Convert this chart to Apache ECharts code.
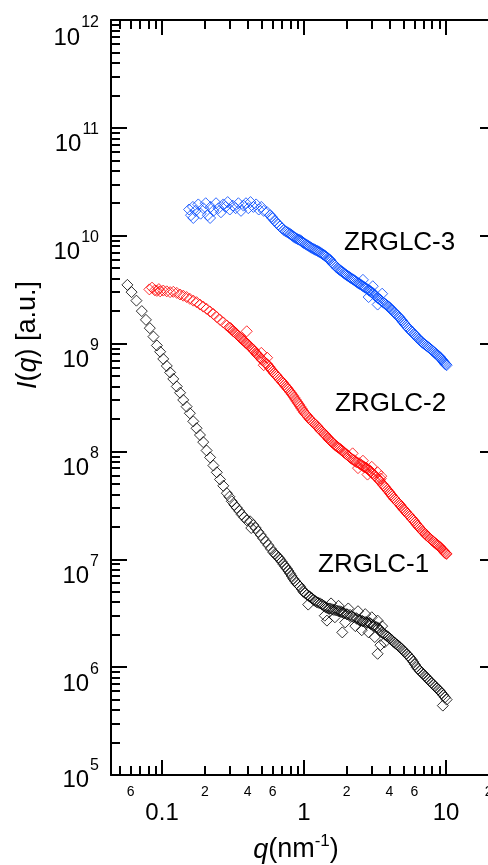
<!DOCTYPE html>
<html>
<head>
<meta charset="utf-8">
<script src="https://cdn.jsdelivr.net/npm/echarts@6.0.0/dist/echarts.min.js"></script>
<style>
  html, body { margin: 0; padding: 0; background: #fff; overflow: hidden; }
  #chart { width: 500px; height: 865px; }
</style>
</head>
<body>
<div id="chart"></div>
<script>
// ZRGLC-1 (black)
const q1 = [0.057,0.061,0.066,0.072,0.077,0.082,0.087,0.092,0.097,0.102,0.108,0.114,0.120,0.127,0.134,0.141,0.149,0.157,0.166,0.175,
  0.185,0.195,0.206,0.218,0.230,0.243,0.256,0.270,0.286,0.298,0.310,0.323,0.336,0.350,0.364,0.380,0.395,0.417,0.425,0.439,
  0.457,0.476,0.496,0.516,0.538,0.561,0.584,0.608,0.642,0.677,0.716,0.756,0.797,0.840,0.887,0.937,0.990,1.05,1.07,1.10,
  1.17,1.23,1.30,1.38,1.40,1.45,1.45,1.52,1.55,1.61,1.65,1.70,1.75,1.79,1.86,1.89,1.95,2.00,2.05,2.11,
  2.23,2.30,2.36,2.40,2.48,2.55,2.62,2.70,2.77,2.85,2.92,3.00,3.08,3.15,3.25,3.30,3.30,3.43,3.45,3.55,
  3.62,3.70,3.83,4.03,4.26,4.50,4.74,5.00,5.28,5.57,5.88,6.20,6.56,6.92,7.30,7.71,8.14,8.60,9.07,9.50,9.57,10.1];
const i1 = [3.5e9,3.0e9,2.5e9,2.0e9,1.66e9,1.39e9,1.16e9,9.6e8,8.4e8,7.2e8,6.2e8,5.4e8,4.7e8,4.0e8,3.5e8,3.0e8,2.6e8,2.26e8,1.9e8,1.64e8,
  1.42e8,1.22e8,1.02e8,8.8e7,7.4e7,6.4e7,5.5e7,4.8e7,4.1e7,3.8e7,3.45e7,3.2e7,3.0e7,2.8e7,2.6e7,2.45e7,2.3e7,2.25e7,1.95e7,2.08e7,
  1.95e7,1.8e7,1.68e7,1.56e7,1.45e7,1.35e7,1.25e7,1.16e7,1.08e7,1.0e7,9.0e6,8.2e6,7.4e6,6.6e6,6.0e6,5.6e6,5.0e6,4.7e6,3.8e6,4.5e6,
  4.2e6,4.0e6,3.9e6,3.7e6,3.0e6,3.55e6,2.7e6,3.5e6,3.9e6,3.4e6,2.9e6,3.35e6,3.7e6,3.3e6,2.1e6,3.2e6,2.6e6,3.1e6,3.5e6,3.05e6,
  2.9e6,2.4e6,2.8e6,3.3e6,2.7e6,2.2e6,2.65e6,3.1e6,2.6e6,2.1e6,2.55e6,2.9e6,2.45e6,1.9e6,2.35e6,2.7e6,1.33e6,2.2e6,1.6e6,2.4e6,
  2.05e6,1.7e6,1.95e6,1.84e6,1.72e6,1.62e6,1.53e6,1.42e6,1.33e6,1.23e6,1.12e6,1.0e6,9.2e5,8.6e5,8.0e5,7.4e5,6.9e5,6.4e5,6.0e5,4.4e5,5.5e5,5.0e5];
// denser high-q part of the black band
const q1b = [0.625,0.660,0.696,0.736,0.776,0.818,0.863,0.910,0.963,1.02,1.085,1.135,1.20,1.265,1.34,1.415,1.49,1.57,1.655,1.745,
  1.84,1.92,2.02,2.17,2.33,2.44,2.58,2.73,2.88,2.96,3.12,3.35,3.52,3.72,3.93,4.15,4.38,4.62,4.87,5.14,
  5.42,5.72,6.04,6.38,6.74,7.11,7.50,7.92,8.37,8.83,9.30,9.83];
const i1b = [1.12e7,1.04e7,9.5e6,8.6e6,7.8e6,7.0e6,6.3e6,5.8e6,5.3e6,4.85e6,4.55e6,4.35e6,4.1e6,3.95e6,3.8e6,3.6e6,3.5e6,3.45e6,3.38e6,3.3e6,
  3.25e6,3.15e6,3.08e6,2.95e6,2.85e6,2.75e6,2.68e6,2.62e6,2.58e6,2.5e6,2.4e6,2.3e6,2.1e6,2.0e6,1.9e6,1.78e6,1.67e6,1.58e6,1.48e6,1.38e6,
  1.28e6,1.18e6,1.06e6,9.6e5,8.9e5,8.3e5,7.7e5,7.15e5,6.65e5,6.2e5,5.75e5,5.25e5];

// ZRGLC-2 (red)
const q2 = [0.0814,0.085,0.089,0.092,0.095,0.097,0.102,0.108,0.114,0.120,0.127,0.134,0.141,0.149,0.157,0.166,0.175,0.185,0.195,0.206,
  0.218,0.230,0.243,0.256,0.270,0.286,0.298,0.310,0.323,0.336,0.350,0.364,0.380,0.395,0.395,0.412,0.430,0.447,0.464,0.482,
  0.500,0.500,0.520,0.546,0.550,0.568,0.590,0.616,0.643,0.670,0.700,0.728,0.756,0.788,0.820,0.855,0.890,0.925,0.960,1.00,
  1.05,1.10,1.15,1.20,1.25,1.30,1.36,1.41,1.47,1.52,1.58,1.65,1.72,1.79,1.87,1.95,2.03,2.11,2.20,2.20,
  2.30,2.40,2.48,2.60,2.60,2.70,2.80,2.80,2.92,3.00,3.00,3.15,3.30,3.30,3.43,3.50,3.56,3.70,3.86,4.03,
  4.18,4.35,4.55,4.74,4.92,5.10,5.33,5.57,5.80,6.05,6.30,6.56,6.82,7.10,7.40,7.71,8.02,8.35,8.70,9.07,9.35,9.60,9.85,10.1];
const i2 = [3.18e9,3.3e9,3.12e9,3.08e9,3.2e9,3.05e9,3.1e9,3.05e9,3.0e9,3.02e9,2.95e9,2.85e9,2.78e9,2.7e9,2.6e9,2.5e9,2.42e9,2.3e9,2.2e9,2.1e9,
  1.98e9,1.88e9,1.76e9,1.66e9,1.57e9,1.47e9,1.41e9,1.35e9,1.28e9,1.22e9,1.16e9,1.10e9,1.05e9,1.0e9,1.3e9,9.5e8,9.0e8,8.5e8,8.0e8,7.6e8,
  7.2e8,8.2e8,6.3e8,6.5e8,7.4e8,6.1e8,5.7e8,5.3e8,5.0e8,4.7e8,4.4e8,4.15e8,3.9e8,3.65e8,3.4e8,3.15e8,2.9e8,2.7e8,2.5e8,2.3e8,
  2.15e8,1.98e8,1.87e8,1.78e8,1.68e8,1.58e8,1.5e8,1.42e8,1.34e8,1.27e8,1.21e8,1.15e8,1.1e8,1.06e8,1.01e8,9.6e7,9.2e7,8.8e7,8.4e7,9.6e7,
  8.1e7,7.0e7,7.6e7,7.3e7,8.2e7,7.1e7,6.9e7,6.1e7,6.6e7,7.2e7,6.3e7,6.0e7,5.6e7,6.4e7,5.3e7,5.9e7,5.0e7,4.7e7,4.4e7,4.1e7,
  3.85e7,3.6e7,3.4e7,3.2e7,3.0e7,2.85e7,2.65e7,2.5e7,2.35e7,2.2e7,2.05e7,1.93e7,1.83e7,1.73e7,1.64e7,1.56e7,1.49e7,1.42e7,1.36e7,1.3e7,1.24e7,1.2e7,1.15e7,1.12e7];
// denser part of the red band
const q2b = [0.304,0.317,0.330,0.343,0.357,0.372,0.388,0.404,0.421,0.439,0.456,0.473,0.491,0.510,0.533,0.557,0.579,0.603,0.630,0.656,
  0.685,0.714,0.742,0.772,0.804,0.837,0.872,0.907,0.942,0.980,1.025,1.075,1.125,1.175,1.225,1.275,1.33,1.385,1.44,1.495,
  1.55,1.615,1.685,1.755,1.83,1.91,1.99,2.07,2.15,2.25,2.35,2.44,2.54,2.65,2.75,2.86,2.96,3.08,3.22,3.37,
  3.47,3.63,3.78,3.95,4.10,4.27,4.45,4.65,4.83,5.01,5.22,5.45,5.69,5.93,6.18,6.43,6.69,6.96,7.25,7.55,
  7.87,8.18,8.52,8.88,9.20,9.47,9.72,9.97];
const i2b = [1.39e9,1.30e9,1.25e9,1.19e9,1.13e9,1.08e9,1.02e9,9.8e8,9.2e8,8.8e8,8.2e8,7.8e8,7.4e8,7.0e8,6.6e8,6.3e8,5.9e8,5.5e8,5.15e8,4.85e8,
  4.55e8,4.3e8,4.0e8,3.78e8,3.52e8,3.28e8,3.02e8,2.8e8,2.6e8,2.4e8,2.22e8,2.06e8,1.93e8,1.82e8,1.73e8,1.63e8,1.54e8,1.46e8,1.38e8,1.3e8,
  1.24e8,1.18e8,1.12e8,1.08e8,1.03e8,9.8e7,9.4e7,9.0e7,8.6e7,8.3e7,7.9e7,7.8e7,7.5e7,7.2e7,7.0e7,6.75e7,6.5e7,6.2e7,5.8e7,5.45e7,
  5.6e7,4.85e7,4.55e7,4.25e7,3.98e7,3.72e7,3.5e7,3.3e7,3.1e7,2.92e7,2.75e7,2.58e7,2.42e7,2.28e7,2.12e7,1.99e7,1.88e7,1.78e7,1.68e7,1.6e7,
  1.52e7,1.45e7,1.39e7,1.33e7,1.27e7,1.22e7,1.17e7,1.13e7];

// ZRGLC-3 (blue)
const q3 = [0.155,0.160,0.165,0.166,0.172,0.180,0.187,0.195,0.203,0.210,0.218,0.220,0.230,0.240,0.250,0.260,0.270,0.280,0.290,0.300,
  0.315,0.330,0.345,0.360,0.375,0.390,0.405,0.420,0.440,0.460,0.480,0.500,0.520,0.550,0.577,0.600,0.640,0.677,0.720,0.760,
  0.797,0.830,0.860,0.900,0.937,0.970,1.00,1.05,1.10,1.15,1.20,1.25,1.30,1.36,1.41,1.47,1.52,1.58,1.65,1.72,
  1.79,1.87,1.95,2.03,2.11,2.20,2.30,2.40,2.48,2.60,2.60,2.70,2.85,2.85,2.92,3.05,3.05,3.15,3.30,3.30,
  3.43,3.55,3.55,3.70,3.86,4.03,4.18,4.35,4.55,4.74,4.92,5.10,5.33,5.57,5.80,6.05,6.30,6.56,6.82,7.10,
  7.40,7.71,8.02,8.35,8.70,9.07,9.35,9.60,9.85,10.1];
const i3 = [1.75e10,1.55e10,1.85e10,1.46e10,1.7e10,1.95e10,1.6e10,1.8e10,2.0e10,1.55e10,1.46e10,1.85e10,1.7e10,2.0e10,1.8e10,1.65e10,1.95e10,1.85e10,2.05e10,1.75e10,
  1.9e10,1.8e10,2.0e10,1.7e10,1.9e10,2.0e10,1.8e10,2.05e10,1.85e10,1.95e10,1.75e10,1.85e10,1.7e10,1.65e10,1.55e10,1.45e10,1.32e10,1.22e10,1.13e10,1.08e10,
  1.04e10,1.0e10,9.6e9,9.3e9,9.1e9,8.8e9,8.5e9,8.2e9,7.9e9,7.6e9,7.4e9,7.2e9,7.0e9,6.7e9,6.5e9,6.2e9,6.0e9,5.6e9,5.3e9,5.0e9,
  4.8e9,4.6e9,4.4e9,4.25e9,4.1e9,3.95e9,3.8e9,3.65e9,3.55e9,3.4e9,3.9e9,3.3e9,3.15e9,2.7e9,3.07e9,2.95e9,3.4e9,2.8e9,2.65e9,2.3e9,
  2.56e9,2.45e9,2.9e9,2.35e9,2.25e9,2.14e9,2.03e9,1.93e9,1.82e9,1.72e9,1.62e9,1.52e9,1.43e9,1.34e9,1.27e9,1.2e9,1.13e9,1.07e9,1.02e9,9.8e8,
  9.4e8,9.0e8,8.6e8,8.2e8,7.8e8,7.5e8,7.1e8,6.8e8,6.5e8,6.3e8];
// denser part of the blue band
const q3b = [0.590,0.620,0.660,0.700,0.740,0.780,0.815,0.845,0.880,0.920,0.955,0.985,1.025,1.075,1.125,1.175,1.225,1.275,1.33,1.385,
  1.44,1.495,1.55,1.615,1.685,1.755,1.83,1.91,1.99,2.07,2.15,2.25,2.35,2.44,2.54,2.65,2.77,2.88,2.98,3.10,
  3.22,3.37,3.49,3.62,3.78,3.95,4.10,4.27,4.45,4.65,4.83,5.01,5.22,5.45,5.69,5.93,6.18,6.43,6.69,6.96,
  7.25,7.55,7.87,8.18,8.52,8.88,9.20,9.47,9.72,9.97];
const i3b = [1.5e10,1.38e10,1.27e10,1.17e10,1.1e10,1.06e10,1.02e10,9.8e9,9.45e9,9.2e9,8.95e9,8.65e9,8.35e9,8.05e9,7.75e9,7.5e9,7.3e9,7.1e9,6.85e9,6.6e9,
  6.35e9,6.1e9,5.8e9,5.45e9,5.15e9,4.9e9,4.7e9,4.5e9,4.32e9,4.18e9,4.02e9,3.88e9,3.72e9,3.6e9,3.48e9,3.35e9,3.22e9,3.1e9,3.0e9,2.88e9,
  2.72e9,2.6e9,2.5e9,2.4e9,2.3e9,2.2e9,2.08e9,1.98e9,1.87e9,1.77e9,1.67e9,1.57e9,1.47e9,1.38e9,1.3e9,1.23e9,1.16e9,1.1e9,1.05e9,1.0e9,
  9.6e8,9.2e8,8.8e8,8.4e8,8.0e8,7.65e8,7.3e8,6.95e8,6.65e8,6.4e8];

// axes
const X_MIN = 0.0437, X_MAX = 22.5;
const Y_MIN = 1e5, Y_MAX = 1e12;
const xMajorTicks = [0.1, 1, 10];
const xMinorTicks = [0.05,0.06,0.07,0.08,0.09,0.2,0.3,0.4,0.5,0.6,0.7,0.8,0.9,2,3,4,5,6,7,8,9,20];
const xMinorLabels = [0.06, 0.2, 0.4, 0.6, 2, 4, 6, 20];
const yExponents = [5, 6, 7, 8, 9, 10, 11, 12];
const yMinorDigits = [2, 3, 4, 5, 6, 7, 8, 9];

const yMajorTicks = yExponents.map(e => Math.pow(10, e));
const yMinorTicks = [];
yExponents.slice(0, -1).forEach(e => yMinorDigits.forEach(d => yMinorTicks.push(d * Math.pow(10, e))));

const FONT = '"Liberation Sans", Arial, Helvetica, sans-serif';
const BLACK = '#000';

const pairs = (qs, is) => qs.map((q, k) => [q, is[k]]);

function xAxisOf(position, major, withLabels) {
  return {
    type: 'log', logBase: 10, min: X_MIN, max: X_MAX, position: position, gridIndex: 0,
    axisLine: { show: major, onZero: false, lineStyle: { color: BLACK, width: 2 } },
    axisTick: {
      show: true, inside: true, length: major ? 15 : 9,
      customValues: major ? xMajorTicks : xMinorTicks,
      lineStyle: { color: BLACK, width: 2 },
    },
    axisLabel: withLabels ? {
      show: true,
      customValues: major ? xMajorTicks : xMinorLabels,
      color: BLACK, fontFamily: FONT,
      fontSize: major ? 24 : 14,
      margin: major ? 26 : 10,
      formatter: v => major
        ? String(+Number(v).toPrecision(3))
        : String(Math.round(v / Math.pow(10, Math.floor(Math.log10(v) + 1e-9)))),
    } : { show: false },
    splitLine: { show: false },
    minorTick: { show: false },
    minorSplitLine: { show: false },
  };
}

// the spacer token (h*) pushes the "10^n" text a little below its tick, as in the original
function powerLabel(v) {
  const e = Math.round(Math.log10(v));
  const h = e === 5 ? 'h5' : (e === 12 ? 'h12' : 'h');
  return '{' + h + '| }{b|10}{s|' + e + '}';
}

function yAxisOf(position, major, withLabels) {
  return {
    type: 'log', logBase: 10, min: Y_MIN, max: Y_MAX, position: position, gridIndex: 0,
    axisLine: { show: major, onZero: false, lineStyle: { color: BLACK, width: 2 } },
    axisTick: {
      show: true, inside: true, length: major ? 16 : 9,
      customValues: major ? yMajorTicks : yMinorTicks,
      lineStyle: { color: BLACK, width: 2 },
    },
    axisLabel: withLabels ? {
      show: true,
      customValues: yMajorTicks,
      margin: 12,
      formatter: powerLabel,
      rich: {
        h: { fontSize: 1, lineHeight: 58, verticalAlign: 'bottom' },
        h5: { fontSize: 1, lineHeight: 35, verticalAlign: 'bottom' },
        h12: { fontSize: 1, lineHeight: 60, verticalAlign: 'bottom' },
        b: { fontSize: 24, lineHeight: 24, fontFamily: FONT, color: BLACK, verticalAlign: 'bottom' },
        s: { fontSize: 16, lineHeight: 16, fontFamily: FONT, color: BLACK, verticalAlign: 'bottom', padding: [0, 0, 19, 1] },
      },
    } : { show: false },
    splitLine: { show: false },
    minorTick: { show: false },
    minorSplitLine: { show: false },
  };
}

function scatter(name, data, color) {
  return {
    name: name, type: 'scatter', xAxisIndex: 0, yAxisIndex: 0,
    data: data, symbol: 'diamond', symbolSize: 11,
    itemStyle: { color: 'transparent', borderColor: color, borderWidth: 1 },
    emphasis: { disabled: true },
  };
}

const chart = echarts.init(document.getElementById('chart'));
chart.setOption({
  animation: false,
  backgroundColor: '#fff',
  grid: { left: 111, right: 4, top: 20, bottom: 90, containLabel: false },
  xAxis: [
    xAxisOf('bottom', true, true),
    xAxisOf('bottom', false, true),
    xAxisOf('top', true, false),
    xAxisOf('top', false, false),
  ],
  yAxis: [
    yAxisOf('left', true, true),
    yAxisOf('left', false, false),
    yAxisOf('right', true, false),
  ],
  series: [
    scatter('ZRGLC-1', pairs(q1, i1).concat(pairs(q1b, i1b)), '#000000'),
    scatter('ZRGLC-2', pairs(q2, i2).concat(pairs(q2b, i2b)), '#ff0000'),
    scatter('ZRGLC-3', pairs(q3, i3).concat(pairs(q3b, i3b)), '#0047ff'),
  ],
  graphic: [
    {
      type: 'text', x: 28, y: 335, rotation: Math.PI / 2,
      style: {
        text: '{i|I}{n|(}{i|q}{n|) [a.u.]}', align: 'center', verticalAlign: 'middle',
        rich: {
          i: { fontSize: 27, fontFamily: FONT, fontStyle: 'italic', fill: BLACK },
          n: { fontSize: 27, fontFamily: FONT, fill: BLACK },
        },
      },
    },
    {
      type: 'text', x: 296, y: 850,
      style: {
        text: '{i|q}{n|(nm}{s|-1}{n|)}', align: 'center', verticalAlign: 'middle',
        rich: {
          i: { fontSize: 27, lineHeight: 27, fontFamily: FONT, fontStyle: 'italic', fill: BLACK, verticalAlign: 'bottom' },
          n: { fontSize: 27, lineHeight: 27, fontFamily: FONT, fill: BLACK, verticalAlign: 'bottom' },
          s: { fontSize: 17, lineHeight: 17, fontFamily: FONT, fill: BLACK, verticalAlign: 'bottom', padding: [0, 0, 14, 0] },
        },
      },
    },
    { type: 'text', x: 344, y: 243, style: { text: 'ZRGLC-3', font: '26px ' + FONT, fill: BLACK, align: 'left', verticalAlign: 'middle' } },
    { type: 'text', x: 335, y: 404, style: { text: 'ZRGLC-2', font: '26px ' + FONT, fill: BLACK, align: 'left', verticalAlign: 'middle' } },
    { type: 'text', x: 318, y: 565, style: { text: 'ZRGLC-1', font: '26px ' + FONT, fill: BLACK, align: 'left', verticalAlign: 'middle' } },
  ],
});
</script>
</body>
</html>
